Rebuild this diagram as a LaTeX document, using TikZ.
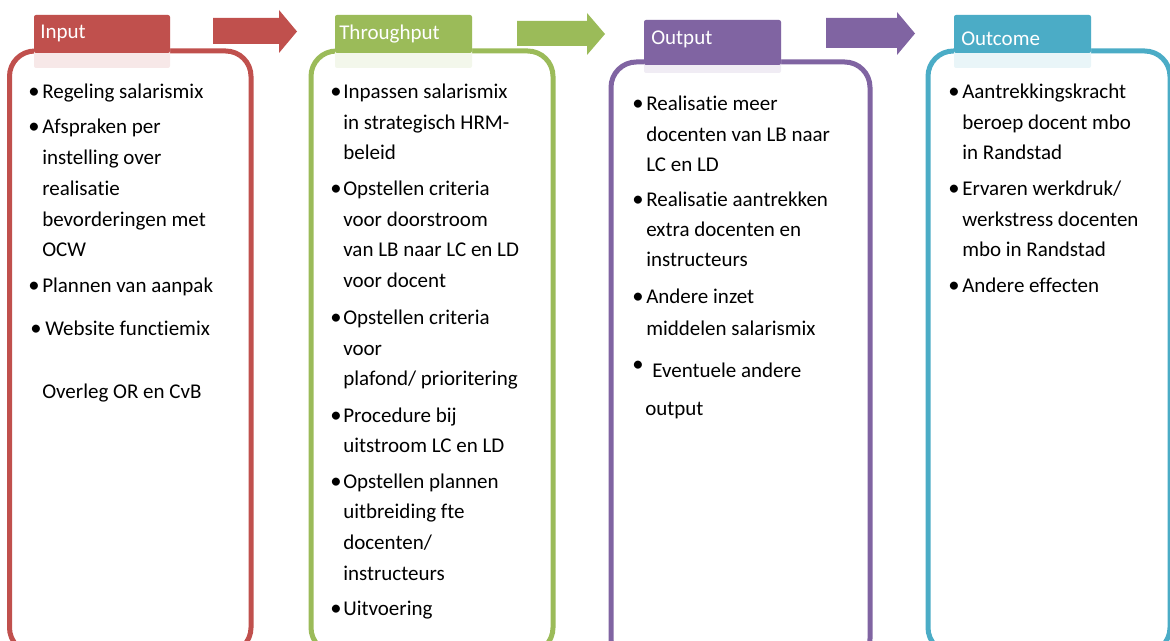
\documentclass[tikz,border=0pt]{standalone}
\usepackage{fontspec}
\setmainfont{Carlito}[Ligatures=NoCommon]
\definecolor{inred}{HTML}{C0504D}
\definecolor{thgreen}{HTML}{9BBB59}
\definecolor{outpurple}{HTML}{8064A2}
\definecolor{ocblue}{HTML}{4BACC6}
\begin{document}
\begin{tikzpicture}[x=0.75pt,y=-0.75pt,
    txt/.style={anchor=base west,inner sep=0pt,font=\fontsize{15.75pt}{19pt}\selectfont},
    bul/.style={anchor=base,inner sep=0pt,font=\fontsize{17pt}{19pt}\selectfont},
    tablbl/.style={anchor=base west,inner sep=0pt,text=white,font=\fontsize{15.75pt}{19pt}\selectfont},
    box/.style={line width=3.75pt,rounded corners=19pt}]
    \useasboundingbox (0,0) rectangle (1170,641);
    \clip (0,0) rectangle (1170,641);
    % columns
    \draw[box,inred] (9.5,51) rectangle (251,653);
    \draw[box,thgreen] (311,51) rectangle (553,653);
    \draw[box,outpurple] (611,62) rectangle (870,664);
    \draw[box,ocblue] (928,51) rectangle (1170,653);
    % tabs
    \fill[inred!13,rounded corners=1.5pt] (34,15) rectangle (170,68);
    \fill[inred,rounded corners=1.5pt] (34,15) rectangle (170,53);
    \fill[thgreen!12,rounded corners=1.5pt] (335,15) rectangle (472,68);
    \fill[thgreen,rounded corners=1.5pt] (335,15) rectangle (472,53);
    \fill[outpurple!12,rounded corners=1.5pt] (644,20) rectangle (781,73);
    \fill[outpurple,rounded corners=1.5pt] (644,20) rectangle (781,65);
    \fill[ocblue!12,rounded corners=1.5pt] (954,15) rectangle (1091,68);
    \fill[ocblue,rounded corners=1.5pt] (954,15) rectangle (1091,53);
    \node[tablbl] (inlbl) at (40,38.5) {Input};
    \node[tablbl] (thlbl) at (339,40) {Throughput};
    \node[tablbl] (outlbl) at (651,45) {Output};
    \node[tablbl] (oclbl) at (961,45.5) {Outcome};
    % block arrows
    \fill[inred] (213,18) -- (279,18) -- (279,10) -- (297,31.5) -- (279,53) -- (279,44) -- (213,44) -- cycle;
    \fill[thgreen] (517,21) -- (587,21) -- (587,13) -- (605,34) -- (587,55) -- (587,46) -- (517,46) -- cycle;
    \fill[outpurple] (826,18) -- (897,18) -- (897,12) -- (915,33.5) -- (897,55) -- (897,48) -- (826,48) -- cycle;
    % input
    \foreach \x/\y/\t in {42/99/Regeling salarismix, 42/134/Afspraken per, 42/165/instelling over,
        42/196/realisatie, 42/227/bevorderingen met, 42/257/OCW, 42/293/Plannen van aanpak,
        45/335/Website functiemix, 42/398/Overleg OR en CvB}
        \node[txt] (in\y) at (\x,\y) {\t};
    \foreach \x/\y in {34/99, 34/134, 34/293, 36/335}
        \node[bul] (inb\y) at (\x,\y) {•};
    % throughput
    \foreach \y/\t in {99/Inpassen salarismix, 130/{in strategisch HRM-}, 160/beleid,
        196/Opstellen criteria, 227/voor doorstroom, 257/van LB naar LC en LD, 288/voor docent,
        325/Opstellen criteria, 355/voor, 385/{plafond/ prioritering},
        422/Procedure bij, 452/uitstroom LC en LD,
        488/Opstellen plannen, 518/uitbreiding fte, 549/{docenten/}, 580/instructeurs,
        615/Uitvoering}
        \node[txt] (th\y) at (343,\y) {\t};
    \foreach \y in {99,196,325,422,488,615}
        \node[bul] (thb\y) at (336,\y) {•};
    % output
    \foreach \x/\y/\t in {646/111/Realisatie meer, 646/142/docenten van LB naar, 646/172/LC en LD,
        646/207/Realisatie aantrekken, 646/237/extra docenten en, 646/267/instructeurs,
        646/304/Andere inzet, 646/335/middelen salarismix,
        652/378/Eventuele andere, 645/415/output}
        \node[txt] (out\y) at (\x,\y) {\t};
    \foreach \y in {111,207,304,372}
        \node[bul] (outb\y) at (638,\y) {•};
    % outcome
    \foreach \y/\t in {99/Aantrekkingskracht, 130/beroep docent mbo, 160/in Randstad,
        196/{Ervaren werkdruk/}, 227/werkstress docenten, 257/mbo in Randstad,
        293/Andere effecten}
        \node[txt] (oc\y) at (962,\y) {\t};
    \foreach \y in {99,196,293}
        \node[bul] (ocb\y) at (954,\y) {•};
\end{tikzpicture}
\end{document}
